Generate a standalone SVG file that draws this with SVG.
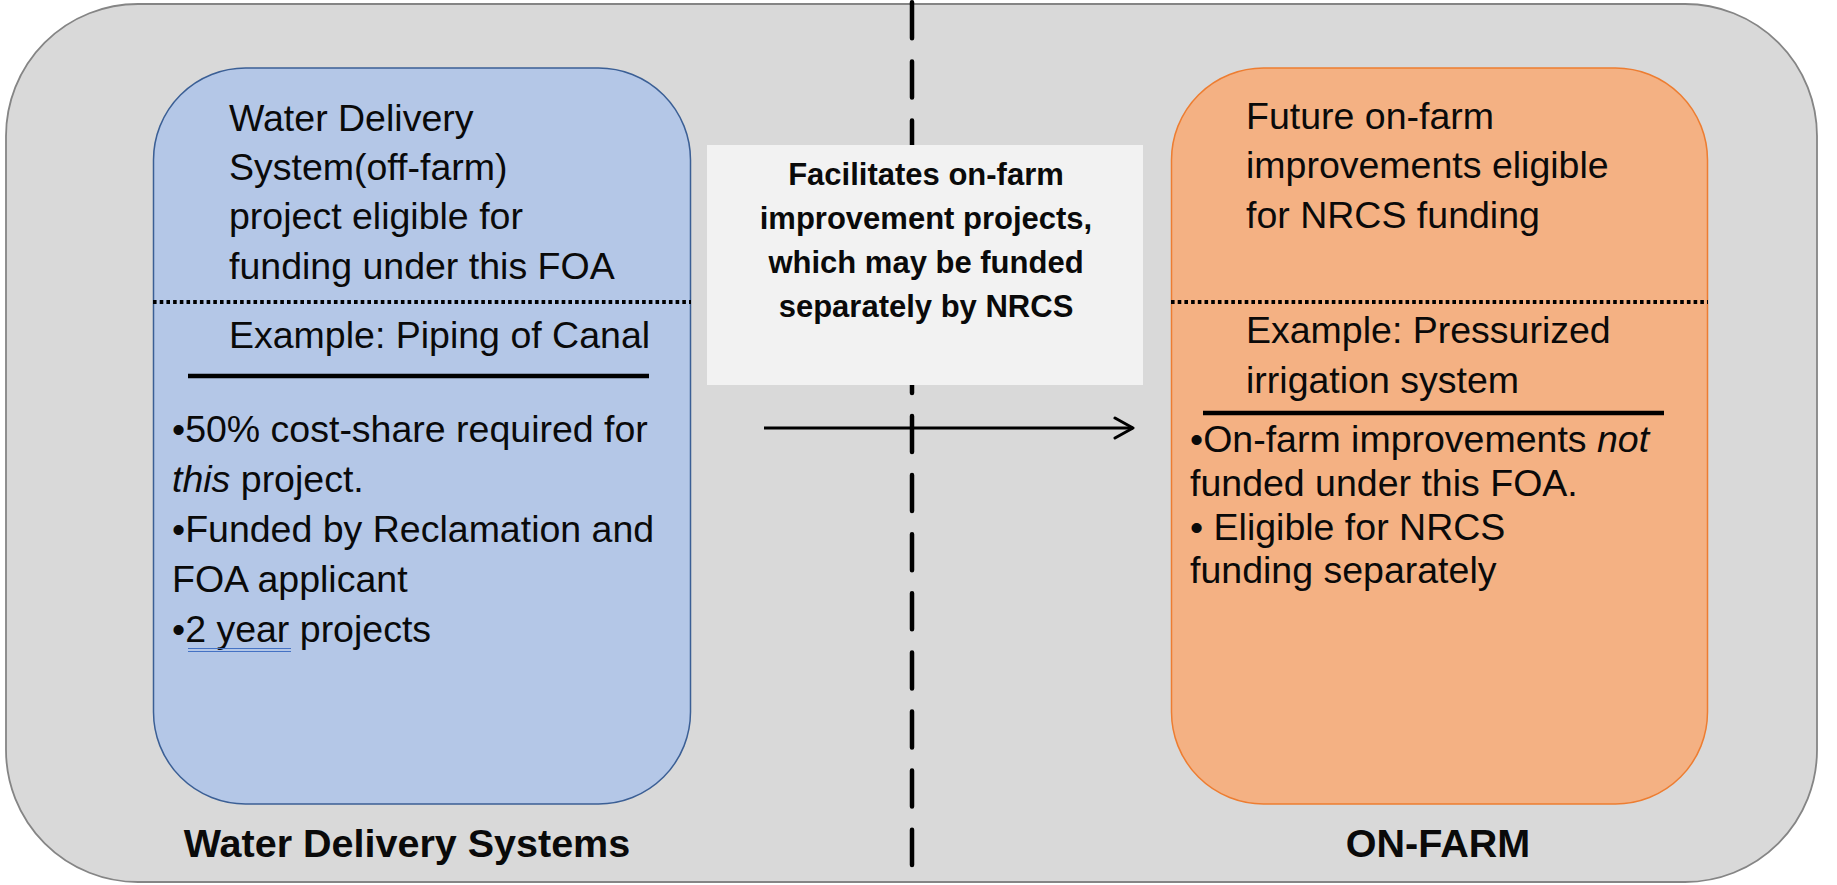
<svg xmlns="http://www.w3.org/2000/svg" width="1837" height="885" viewBox="0 0 1837 885">
  <defs>
    <style>
      .body { font-family: "Liberation Sans", Arial, sans-serif; font-size: 37.5px; fill: #0a0a0a; }
      .bold { font-family: "Liberation Sans", Arial, sans-serif; font-weight: bold; fill: #0a0a0a; }
      .dotted { stroke: #000; stroke-width: 4; stroke-dasharray: 3.6 3.1; fill: none; }
      .rule { stroke: #000; stroke-width: 4.5; fill: none; }
      .it { font-style: italic; }
    </style>
    <marker id="openArrow" viewBox="0 0 24 24" refX="21" refY="12" markerWidth="24" markerHeight="24" markerUnits="userSpaceOnUse" orient="auto">
      <path d="M3,2 L21,12 L3,22" fill="none" stroke="#000" stroke-width="3" stroke-linecap="round" stroke-linejoin="round"/>
    </marker>
  </defs>

  <g id="background">
    <rect x="6" y="4" width="1811" height="878" rx="132" ry="132" fill="#d9d9d9" stroke="#858585" stroke-width="1.8"/>
  </g>

  <g id="divider">
    <line x1="912" y1="2.3" x2="912" y2="865" stroke="#000" stroke-width="4.5" stroke-linecap="round" stroke-dasharray="36 23.1"/>
  </g>

  <g id="node-water-delivery">
    <rect x="153.5" y="68" width="537" height="736" rx="92" ry="92" fill="#b4c7e7" stroke="#3b5f95" stroke-width="1.5"/>
    <text class="body" x="229" y="131">Water Delivery</text>
    <text class="body" x="229" y="180">System(off-farm)</text>
    <text class="body" x="229" y="229">project eligible for</text>
    <text class="body" x="229" y="279">funding under this FOA</text>
    <line class="dotted" x1="153" y1="302" x2="691" y2="302"/>
    <text class="body" x="229" y="348">Example: Piping of Canal</text>
    <line class="rule" x1="188" y1="376" x2="649" y2="376"/>
    <text class="body" x="172" y="442">•50% cost-share required for</text>
    <text class="body" x="172" y="492"><tspan class="it">this</tspan> project.</text>
    <text class="body" x="172" y="542">•Funded by Reclamation and</text>
    <text class="body" x="172" y="592">FOA applicant</text>
    <text class="body" x="172" y="642">•2 year projects</text>
    <line x1="188" y1="648.5" x2="291" y2="648.5" stroke="#4472c4" stroke-width="1.2"/>
    <line x1="188" y1="651.5" x2="291" y2="651.5" stroke="#4472c4" stroke-width="1.2"/>
    <text class="bold" x="407" y="857" font-size="39.5" text-anchor="middle">Water Delivery Systems</text>
  </g>

  <g id="node-on-farm">
    <rect x="1171.5" y="68" width="536" height="736" rx="92" ry="92" fill="#f4b183" stroke="#ed7d31" stroke-width="1.5"/>
    <text class="body" x="1246" y="129">Future on-farm</text>
    <text class="body" x="1246" y="178">improvements eligible</text>
    <text class="body" x="1246" y="228">for NRCS funding</text>
    <line class="dotted" x1="1171" y1="302" x2="1708" y2="302"/>
    <text class="body" x="1246" y="343">Example: Pressurized</text>
    <text class="body" x="1246" y="393">irrigation system</text>
    <line class="rule" x1="1203" y1="413" x2="1664" y2="413"/>
    <text class="body" x="1190" y="452">•On-farm improvements <tspan class="it">not</tspan></text>
    <text class="body" x="1190" y="496">funded under this FOA.</text>
    <text class="body" x="1190" y="540">• Eligible for NRCS</text>
    <text class="body" x="1190" y="583">funding separately</text>
    <text class="bold" x="1438" y="857" font-size="39.5" text-anchor="middle">ON-FARM</text>
  </g>

  <g id="node-facilitates">
    <rect x="707" y="145" width="436" height="240" fill="#f2f2f2"/>
    <text class="bold" x="926" y="185" font-size="31" text-anchor="middle">Facilitates on-farm</text>
    <text class="bold" x="926" y="229" font-size="31" text-anchor="middle">improvement projects,</text>
    <text class="bold" x="926" y="273" font-size="31" text-anchor="middle">which may be funded</text>
    <text class="bold" x="926" y="317" font-size="31" text-anchor="middle">separately by NRCS</text>
  </g>

  <g id="connectors">
    <line x1="764" y1="428" x2="1133" y2="428" stroke="#000" stroke-width="3" marker-end="url(#openArrow)"/>
  </g>
</svg>
